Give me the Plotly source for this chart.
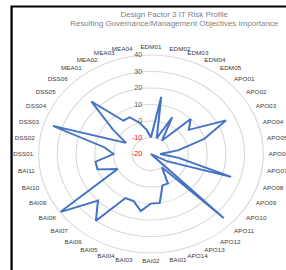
import plotly.graph_objects as go

categories = ["EDM01", "EDM02", "EDM03", "EDM04", "EDM05",
              "APO01", "APO02", "APO03", "APO04", "APO05", "APO06", "APO07",
              "APO08", "APO09", "APO10", "APO11", "APO12", "APO13", "APO14",
              "BAI01", "BAI02", "BAI03", "BAI04", "BAI05", "BAI06", "BAI07",
              "BAI08", "BAI09", "BAI10", "BAI11",
              "DSS01", "DSS02", "DSS03", "DSS04", "DSS05", "DSS06",
              "MEA01", "MEA02", "MEA03", "MEA04"]

importance = [-10, 15, -10, 5, -10,
              10, 5, 25, 10, -5, -15, -5,
              25, -10, -20, 35, -10, 0, 0,
              10, 10, 15, 10, 10, 30, 20,
              40, 0, 10, 10,
              0, 5, 35, -5, 5, 25,
              5, 5, 0, -5]

radial_ticks = [-20, -10, 0, 10, 20, 30, 40]
radial_ticktext = [('<span style="color:#FF0000">%d</span>' % t) if t < 0 else str(t)
                   for t in radial_ticks]

title_text = ("Design Factor 3 IT Risk Profile<br>"
              "Resulting Governance/Management Objectives Importance")

# the original picture is wider than tall (elliptical radar); the figure is
# laid out narrower and then stretched horizontally to the 286 px window
SX = 1.135
W, H = 252, 270
cx, cy, R = 133, 154, 99

fig = go.Figure()
fig.add_trace(go.Scatterpolar(
    r=importance + importance[:1],
    theta=categories + categories[:1],
    mode="lines",
    line=dict(color="#4472C4", width=1.8),
    showlegend=False,
))

fig.update_layout(
    width=W, height=H, autosize=False,
    margin=dict(l=0, r=0, t=0, b=0),
    paper_bgcolor="white",
    font=dict(family="Liberation Sans", color="#595959", size=6),
    title=dict(text=title_text, x=153.5 / W, xanchor="center",
               y=1 - 17 / H, yanchor="top",
               font=dict(size=7, color="#7f7f7f", family="Liberation Sans")),
    polar=dict(
        domain=dict(x=[(cx - R) / W, (cx + R) / W],
                    y=[(H - cy - R) / H, (H - cy + R) / H]),
        bgcolor="white",
        radialaxis=dict(range=[-20, 40], tickvals=radial_ticks,
                        ticktext=radial_ticktext, angle=90, tickangle=90,
                        side="counterclockwise", showline=False,
                        ticks="outside", ticklen=5, tickcolor="rgba(0,0,0,0)",
                        gridcolor="#d9d9d9", gridwidth=1,
                        tickfont=dict(size=6.3, color="#595959")),
        angularaxis=dict(direction="clockwise", rotation=90,
                         categoryarray=categories, categoryorder="array",
                         showgrid=False, showline=True, linecolor="#d9d9d9",
                         linewidth=1, ticks="outside", ticklen=3,
                         tickcolor="rgba(0,0,0,0)",
                         tickfont=dict(size=5.6, color="#404040")),
    ),
    shapes=[dict(type="rect", xref="paper", yref="paper",
                 x0=10.2 / W, x1=1.1, y0=-0.1, y1=1 - 6.5 / H,
                 line=dict(color="black", width=2), fillcolor="rgba(0,0,0,0)")],
)

post = ("document.body.style.margin='0';"
        "document.body.style.overflow='hidden';"
        "var gd=document.getElementById('{plot_id}');"
        "gd.style.transformOrigin='0 0';"
        "gd.style.transform='scaleX(%s)';" % SX)

fig.write_html("out.html", config={"displayModeBar": False}, post_script=post)
